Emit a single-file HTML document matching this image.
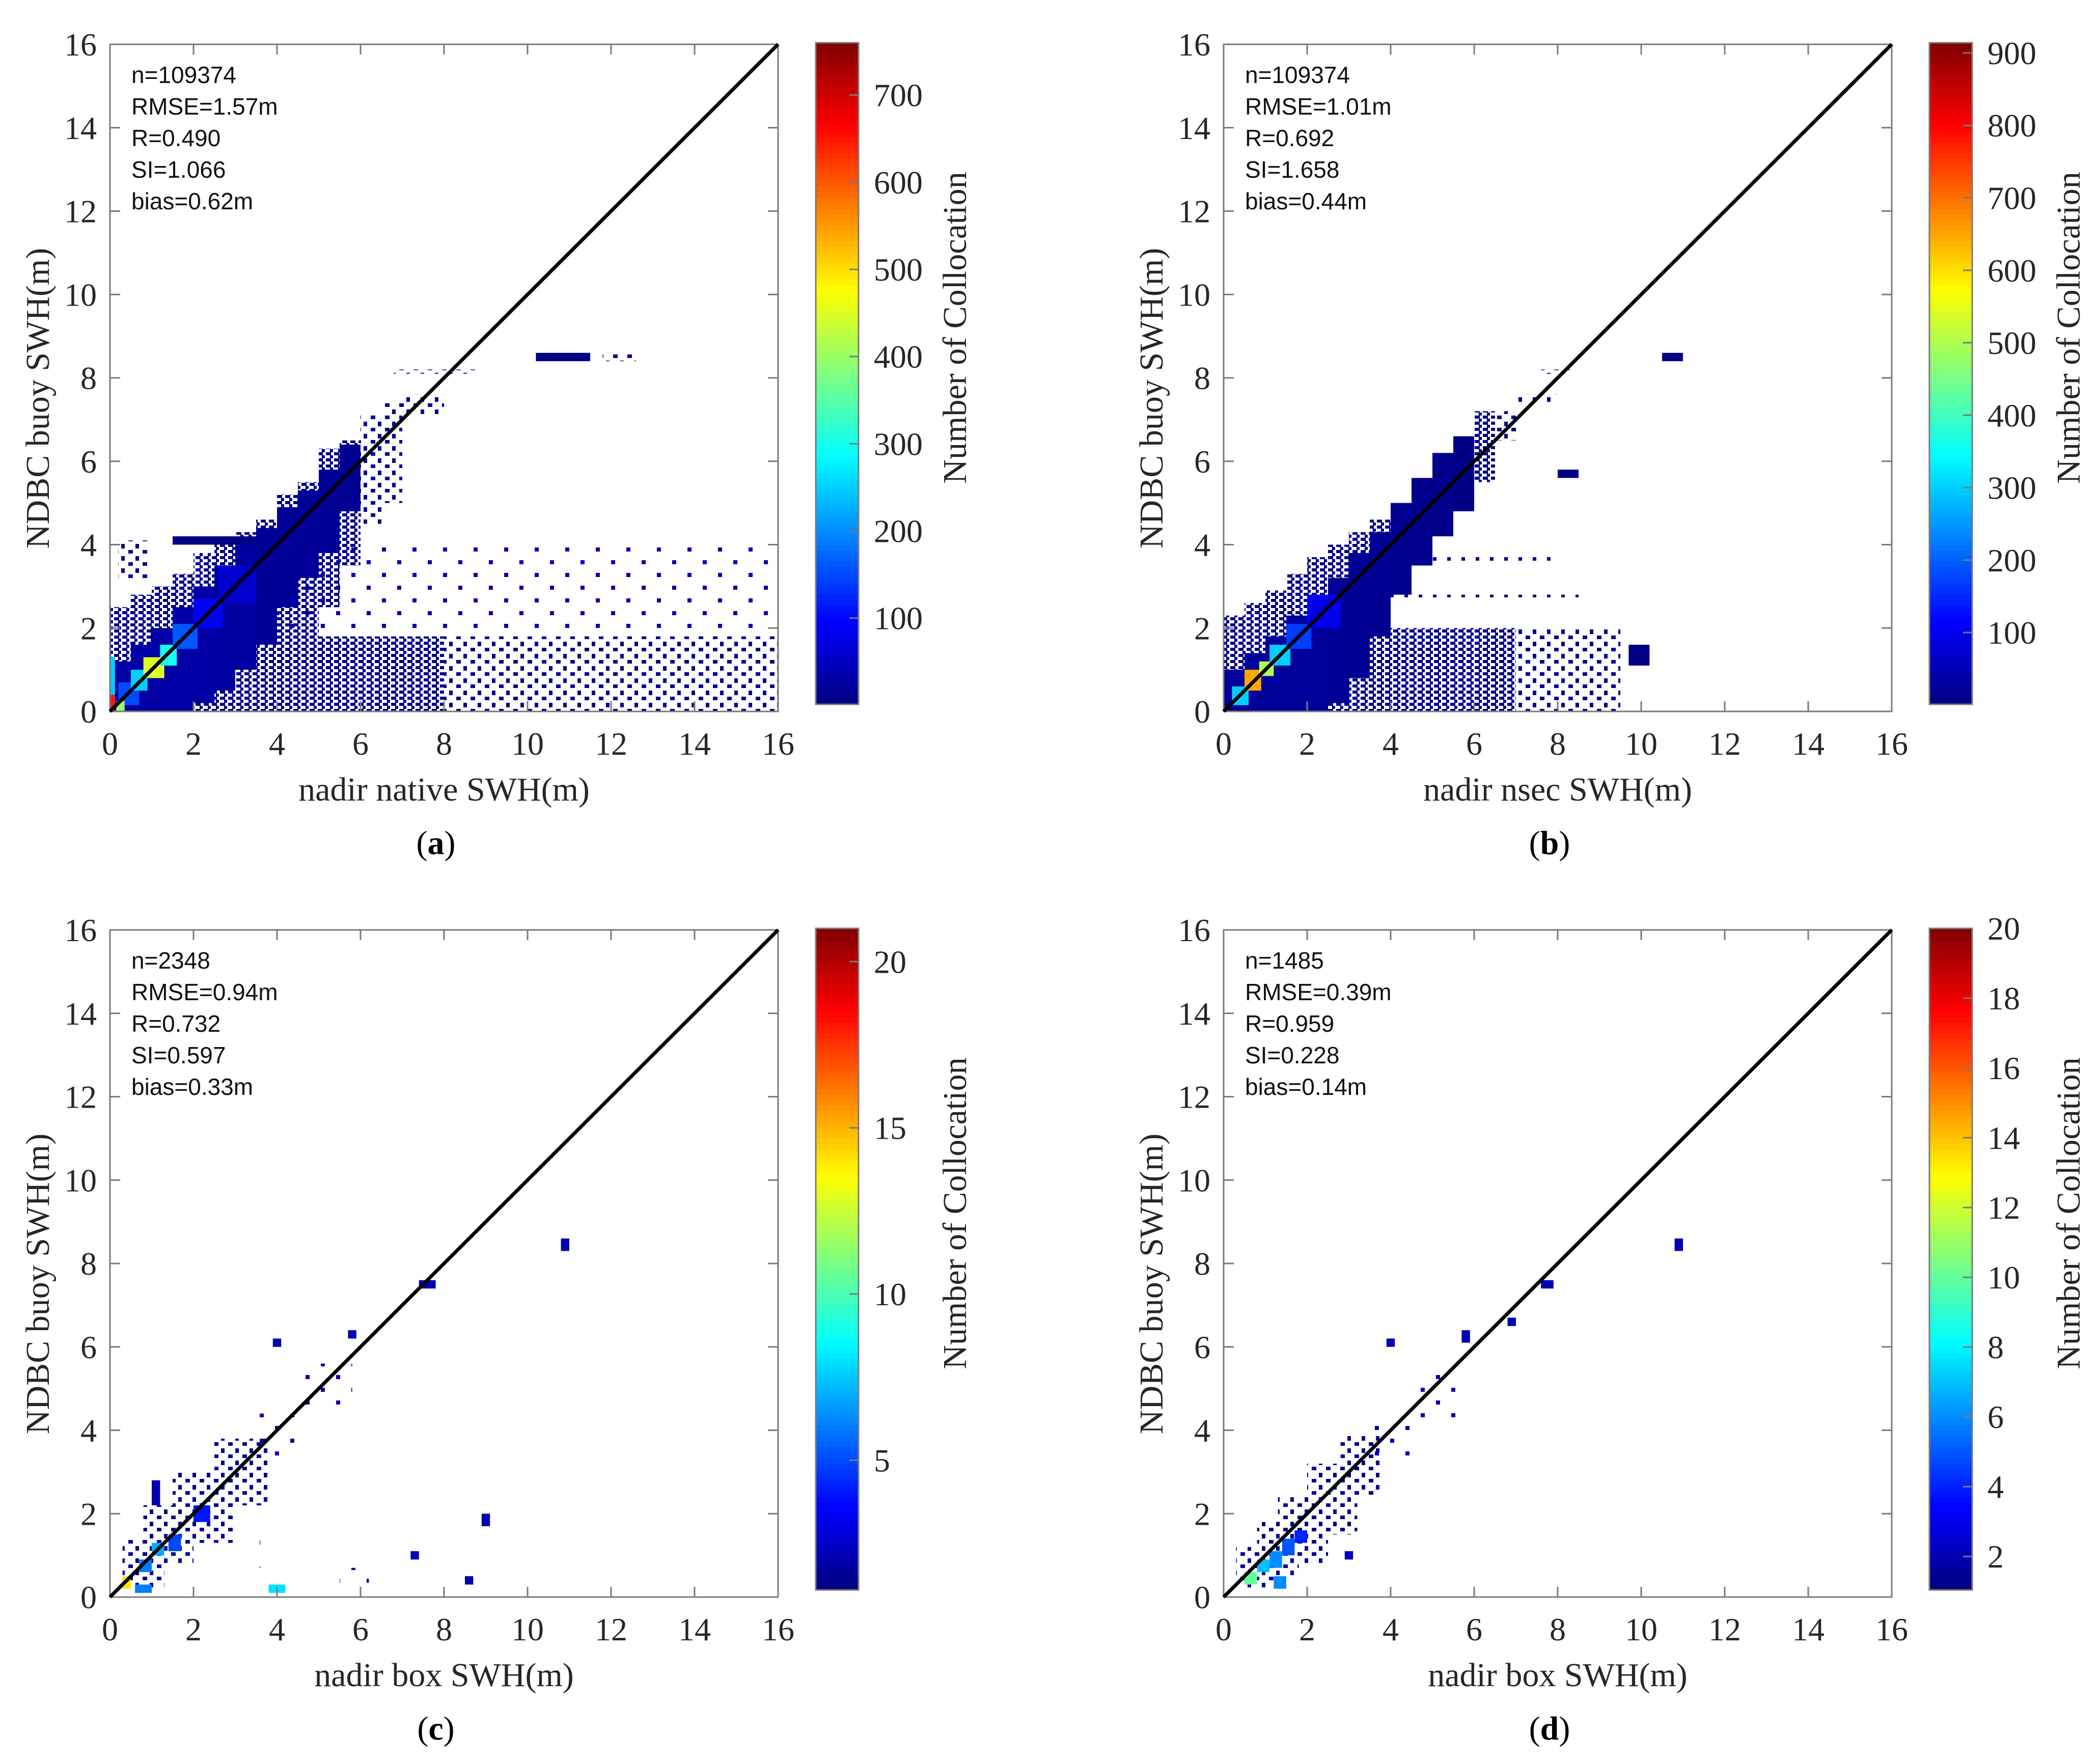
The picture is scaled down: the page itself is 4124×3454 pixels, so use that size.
<!DOCTYPE html>
<html><head><meta charset="utf-8">
<style>
html,body{margin:0;padding:0;background:#fff;}
svg{display:block;}
</style></head>
<body>
<svg id="fig" width="4124" height="3454" viewBox="0 0 4124 3454" xmlns="http://www.w3.org/2000/svg">
<defs>
<pattern id="sparse1" patternUnits="userSpaceOnUse" width="16" height="12">
<rect x="0" y="0" width="10" height="6" fill="#00008f"/>
<rect x="8" y="6" width="6" height="6" fill="#00008f"/>
</pattern>
<pattern id="sparse2" patternUnits="userSpaceOnUse" width="28" height="24">
<rect x="0" y="0" width="9" height="7" fill="#00008f"/>
<rect x="14" y="12" width="7" height="9" fill="#00008f"/>
</pattern>
<pattern id="sparse3" patternUnits="userSpaceOnUse" width="60" height="50">
<rect x="0" y="0" width="8" height="8" fill="#0000b0"/>
<rect x="30" y="25" width="8" height="8" fill="#0000b0"/>
</pattern>
</defs>
</svg>
<script>
// ---- data ----
const xTicks = [0,2,4,6,8,10,12,14,16];
const yTicks = [0,2,4,6,8,10,12,14,16];
const panelLetters = ['a','b','c','d'];
const xLabels = ['nadir native SWH(m)','nadir nsec SWH(m)','nadir box SWH(m)','nadir box SWH(m)'];
const statsA = ['n=109374','RMSE=1.57m','R=0.490','SI=1.066','bias=0.62m'];
const statsB = ['n=109374','RMSE=1.01m','R=0.692','SI=1.658','bias=0.44m'];
const statsC = ['n=2348','RMSE=0.94m','R=0.732','SI=0.597','bias=0.33m'];
const statsD = ['n=1485','RMSE=0.39m','R=0.959','SI=0.228','bias=0.14m'];
const cbRangeA = [1,760], cbRangeB = [1,914], cbRangeC = [1.1,21], cbRangeD = [1.04,20];
const cbTicksA = [100,200,300,400,500,600,700];
const cbTicksB = [100,200,300,400,500,600,700,800,900];
const cbTicksC = [5,10,15,20];
const cbTicksD = [2,4,6,8,10,12,14,16,18,20];
// cells: [x0,x1,y0,y1,count,sparseLevel]
const cellsA = [
 [0,0.5,0,2.5,5,1],[0.5,1,0,2.8,5,1],[1,1.5,0,3.0,5,1],[1.5,2,0,3.3,5,1],[2,2.5,0,3.8,5,1],[2.5,3,0,4.1,5,1],[3,3.5,0,4.3,5,1],[3.5,4,0,4.6,5,1],
 [0,0.5,0,1.2,30,0],[0.5,1,0,1.6,30,0],[1,1.5,0,2.0,30,0],[1.5,2,0,2.5,30,0],[2,2.5,0.2,3.0,30,0],[2.5,3,0.5,3.5,25,0],[3,3.5,1.0,4.0,25,0],[3.5,4,1.6,4.4,20,0],
 [4,4.5,0.5,5.2,5,1],[4,4.5,2.5,4.9,20,0],[4.5,5,1.5,5.5,5,1],[4.5,5,3.2,5.3,20,0],[5,5.5,2.5,6.3,5,1],[5,5.5,3.8,5.8,18,0],[5.5,6,3.5,6.5,5,1],[5.5,6,4.8,6.4,15,0],
 [6,6.5,4.5,7.1,5,2],[6.5,7,5,7.4,5,2],[7,8,7.1,7.6,5,2],[6.8,8.8,8.1,8.2,5,2],[10.2,11.5,8.4,8.6,5,0],[11.8,12.6,8.4,8.6,5,2],
 [4,8,0,1.8,5,1],[8,16,0,1.8,5,2],[0.2,0.9,3.2,4.1,5,2],[1.5,3.5,4.0,4.2,5,0],[4,16,1.8,4,5,3],
 [0.2,0.7,0.15,0.7,150,0],[0.5,0.9,0.5,1.0,250,0],[0.8,1.3,0.8,1.3,450,0],[1.2,1.6,1.1,1.6,300,0],[1.5,2.1,1.5,2.1,160,0],[2,2.7,2.0,2.7,90,0],[2.6,3.5,2.6,3.5,60,0],
 [0,0.12,0,1.3,250,0],[0,0.12,0,0.4,650,0],[0.15,0.35,0,0.25,400,0]
];
const cellsB = [
 [0,0.5,0,2.3,5,1],[0.5,1,0,2.6,5,1],[1,1.5,0,2.9,5,1],[1.5,2,0,3.3,5,1],[2,2.5,0,3.7,5,1],[2.5,3,0,4.0,5,1],[3,3.5,0,4.3,5,1],[3.5,4,0.2,4.6,5,1],
 [0,0.5,0,1.0,25,0],[0.5,1,0,1.4,25,0],[1,1.5,0,1.8,25,0],[1.5,2,0,2.3,25,0],[2,2.5,0,2.8,25,0],[2.5,3,0.2,3.2,22,0],[3,3.5,0.8,3.8,20,0],[3.5,4,1.8,4.3,18,0],
 [4,4.5,2.8,5.0,15,0],[4.5,5,3.5,5.6,12,0],[5,5.5,4.2,6.2,10,0],[5.5,6,4.8,6.6,8,0],[6,6.5,5.5,7.2,5,1],[6.5,7,6.5,7.2,5,2],[7,8,7.4,7.6,5,2],[7.6,8.3,8.1,8.2,5,2],
 [10.5,11,8.4,8.6,5,0],[8,8.5,5.6,5.8,5,0],
 [3.5,7,0,2.0,5,1],[7,9.5,0,2.0,5,2],[9.7,10.2,1.1,1.6,5,0],[4,8.5,2.7,2.8,5,2],[4.5,8,3.6,3.7,5,2],[1.5,4,6.1,6.2,5,3],
 [0.2,0.6,0.15,0.6,300,0],[0.5,0.9,0.5,1.0,650,0],[0.85,1.2,0.85,1.2,500,0],[1.1,1.6,1.1,1.6,300,0],[1.5,2.1,1.5,2.1,170,0],[2,2.8,2,2.8,100,0]
];
const cellsC = [
 [0.3,1.3,0.2,1.4,2,2],[0.8,2.0,0.8,2.2,2,2],[1.5,3.0,1.3,3.0,2,2],[2.5,3.8,2.2,3.8,2,2],[3.5,4.5,3.3,4.4,2,3],[4.6,5.8,4.6,5.6,1.5,3],
 [0.3,0.5,0.2,0.5,14,0],[0.7,1.0,0.6,0.9,6,0],[1.0,1.3,1.0,1.3,7,0],[1.4,1.7,1.1,1.5,5,0],[2,2.4,1.8,2.2,4,0],[0.6,1.0,0.1,0.3,6,0],
 [3.9,4.1,6.0,6.2,2,0],[5.7,5.9,6.2,6.4,2,0],[7.4,7.8,7.4,7.6,2,0],[10.8,11,8.3,8.6,2,0],[8.9,9.1,1.7,2.0,2,0],[3.4,3.6,0.7,1.7,2,3],[5.5,6.2,0.2,0.7,2,3],[7.2,7.4,0.9,1.1,2,0],[8.5,8.7,0.3,0.5,2,0],[1.0,1.2,2.2,2.8,2,0],[3.8,4.2,0.1,0.3,8,0]
];
const cellsD = [
 [0.3,1.2,0.2,1.2,2,2],[0.8,1.8,0.5,1.8,2,2],[1.3,2.5,0.8,2.4,2,2],[2,3.2,1.5,3.2,2,2],[2.8,3.8,2.4,3.9,2,2],[3.5,4.6,3.2,4.3,1.5,3],[4.6,5.8,4.2,5.5,1.5,3],
 [0.5,0.8,0.3,0.6,10,0],[0.8,1.1,0.6,0.9,7,0],[1.1,1.4,0.7,1.1,6,0],[1.4,1.7,1.0,1.4,5,0],[1.7,2.0,1.3,1.6,4,0],[1.2,1.5,0.2,0.5,6,0],
 [3.9,4.1,6.0,6.2,2,0],[5.7,5.9,6.1,6.4,2,0],[7.6,7.9,7.4,7.6,2,0],[10.8,11,8.3,8.6,2,0],[6.8,7.0,6.5,6.7,2,0],[2.9,3.1,0.9,1.1,2,0]
];
const cellSets = [cellsA, cellsB, cellsC, cellsD];
const statSets = [statsA, statsB, statsC, statsD];
const cbRanges = [cbRangeA, cbRangeB, cbRangeC, cbRangeD];
const cbTickSets = [cbTicksA, cbTicksB, cbTicksC, cbTicksD];

// ---- layout ----
const NS = 'http://www.w3.org/2000/svg';
const svg = document.getElementById('fig');
const layout = [
 {L:216,T:87,W:1312,H:1310,cbx:1602,cbt:84,cbb:1383},
 {L:2403,T:87,W:1312,H:1310,cbx:3789,cbt:84,cbb:1383},
 {L:216,T:1826,W:1312,H:1310,cbx:1602,cbt:1823,cbb:3122},
 {L:2403,T:1826,W:1312,H:1310,cbx:3789,cbt:1823,cbb:3122}
];
function mk(tag, attrs, parent){const e=document.createElementNS(NS,tag);for(const k in attrs)e.setAttribute(k,attrs[k]);(parent||svg).appendChild(e);return e;}
function jet(t){t=Math.max(0,Math.min(1,t));
 const r=Math.max(0,Math.min(1,Math.min(4*t-1.5,-4*t+4.5)));
 const g=Math.max(0,Math.min(1,Math.min(4*t-0.5,-4*t+3.5)));
 const b=Math.max(0,Math.min(1,Math.min(4*t+0.5,-4*t+2.5)));
 return 'rgb('+Math.round(r*255)+','+Math.round(g*255)+','+Math.round(b*255)+')';}
const serif='"Liberation Serif", serif', sans='"Liberation Sans", sans-serif';

layout.forEach((P,i)=>{
 const xs=v=>P.L+v/16*P.W, ys=v=>P.T+P.H-v/16*P.H;
 const g=mk('g',{});
 
 
 const rng=cbRanges[i];
 const col=c=>jet((c-rng[0])/(rng[1]-rng[0]));
 cellSets[i].forEach(c=>{
  const r=mk('rect',{x:xs(c[0]),y:ys(c[3]),width:xs(c[1])-xs(c[0]),height:ys(c[2])-ys(c[3]),fill:c[5]?'url(#sparse'+c[5]+')':col(c[4])},g);
  
  
 });
 const box=mk('rect',{x:P.L,y:P.T,width:P.W,height:P.H,fill:'none',stroke:'#7a7a7a','stroke-width':3},g);
 
 
 xTicks.forEach(t=>{
  const x=xs(t);
  mk('line',{x1:x,y1:P.T+P.H,x2:x,y2:P.T+P.H-20,stroke:'#7a7a7a','stroke-width':3},g);
  mk('line',{x1:x,y1:P.T,x2:x,y2:P.T+20,stroke:'#7a7a7a','stroke-width':3},g);
  const tx=mk('text',{x:x,y:P.T+P.H+85,'font-family':serif,'font-size':64,fill:'#262626','text-anchor':'middle'},g);
  tx.textContent=t;
  
  
 });
 yTicks.forEach(t=>{
  const y=ys(t);
  mk('line',{x1:P.L,y1:y,x2:P.L+20,y2:y,stroke:'#7a7a7a','stroke-width':3},g);
  mk('line',{x1:P.L+P.W,y1:y,x2:P.L+P.W-20,y2:y,stroke:'#7a7a7a','stroke-width':3},g);
  const ty=mk('text',{x:P.L-26,y:y+22,'font-family':serif,'font-size':64,fill:'#262626','text-anchor':'end'},g);
  ty.textContent=t;
  
  
 });
 const dl=mk('line',{x1:xs(0),y1:ys(0),x2:xs(16),y2:ys(16),stroke:'#000','stroke-width':7},g);
 
 
 statSets[i].forEach((s,k)=>{
  const st=mk('text',{x:P.L+42,y:P.T+76+k*62,'font-family':sans,'font-size':46,fill:'#111'},g);
  st.textContent=s;
  
  
 });
 const xl=mk('text',{x:P.L+P.W/2,y:P.T+P.H+175,'font-family':serif,'font-size':66,fill:'#262626','text-anchor':'middle'},g);
 xl.textContent=xLabels[i];
 
 
 const yc=P.T+P.H/2+40;
 const yl=mk('text',{x:0,y:0,'font-family':serif,'font-size':66,fill:'#262626','text-anchor':'middle',transform:'translate('+(P.L-120)+','+yc+') rotate(-90)'},g);
 yl.textContent='NDBC buoy SWH(m)';
 
 
 const pl=mk('text',{x:P.L+P.W/2-16,y:P.T+P.H+280,'font-family':serif,'font-size':66,fill:'#000','text-anchor':'middle'},g);
 pl.innerHTML='(<tspan font-weight="bold">'+panelLetters[i]+'</tspan>)';
 
 
 const N=120, cbH=P.cbb-P.cbt;
 for(let k=0;k<N;k++){
  const r=mk('rect',{x:P.cbx,y:P.cbb-(k+1)*cbH/N,width:84,height:cbH/N+1,fill:jet((k+0.5)/N)},g);
  
  
 }
 const cbf=mk('rect',{x:P.cbx,y:P.cbt,width:84,height:cbH,fill:'none',stroke:'#7a7a7a','stroke-width':3},g);
 
 
 cbTickSets[i].forEach(t=>{
  const y=P.cbb-(t-rng[0])/(rng[1]-rng[0])*cbH;
  mk('line',{x1:P.cbx+84,y1:y,x2:P.cbx+66,y2:y,stroke:'#7a7a7a','stroke-width':3},g);
  const ct=mk('text',{x:P.cbx+114,y:y+22,'font-family':serif,'font-size':64,fill:'#262626'},g);
  ct.textContent=t;
  
  
 });
 const cl=mk('text',{x:0,y:0,'font-family':serif,'font-size':66,fill:'#262626','text-anchor':'middle',transform:'translate('+(P.cbx+295)+','+(P.cbt+cbH/2-90)+') rotate(-90)'},g);
 cl.textContent='Number of Collocation';
 
 
});
</script>
</body></html>
